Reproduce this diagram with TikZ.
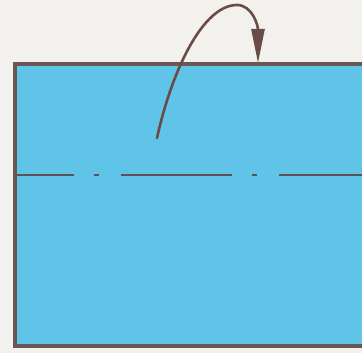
\documentclass[tikz,border=0pt]{standalone}
\usetikzlibrary{arrows.meta}
\definecolor{paper}{HTML}{F3F1EE}
\definecolor{sheet}{HTML}{5FC4E8}
\definecolor{edge}{HTML}{6B5752}
\definecolor{arrowc}{HTML}{6A4C47}
\definecolor{foldc}{HTML}{5A5254}
\tikzset{
  sheetbox/.style={fill=sheet, draw=edge, line width=4.5pt, line join=miter},
  foldline/.style={draw=foldc, line width=2pt, dash pattern=on 111pt off 20pt on 5pt off 22pt, dash phase=54pt},
  foldarrow/.style={draw=arrowc, line width=2.6pt, line cap=round, -{Triangle[length=34pt,width=13pt]}}
}
\begin{document}
\begin{tikzpicture}[x=1pt,y=-1pt]
\useasboundingbox (0,0) rectangle (362,353);
\clip (0,0) rectangle (362,353);
\fill[paper] (0,0) rectangle (362,353);
\draw[sheetbox] (15,64) rectangle (380,346);
\coordinate (foldL) at (17,175);
\coordinate (foldR) at (362,175);
\draw[foldline] (foldL) -- (foldR);
\coordinate (astart) at (157,138);
\coordinate (apeak) at (237,5);
\coordinate (aend) at (258,63);
\draw[foldarrow] (astart) .. controls (172,70) and (203,5) .. (apeak) .. controls (252,5) and (258,25) .. (aend);
\end{tikzpicture}
\end{document}
